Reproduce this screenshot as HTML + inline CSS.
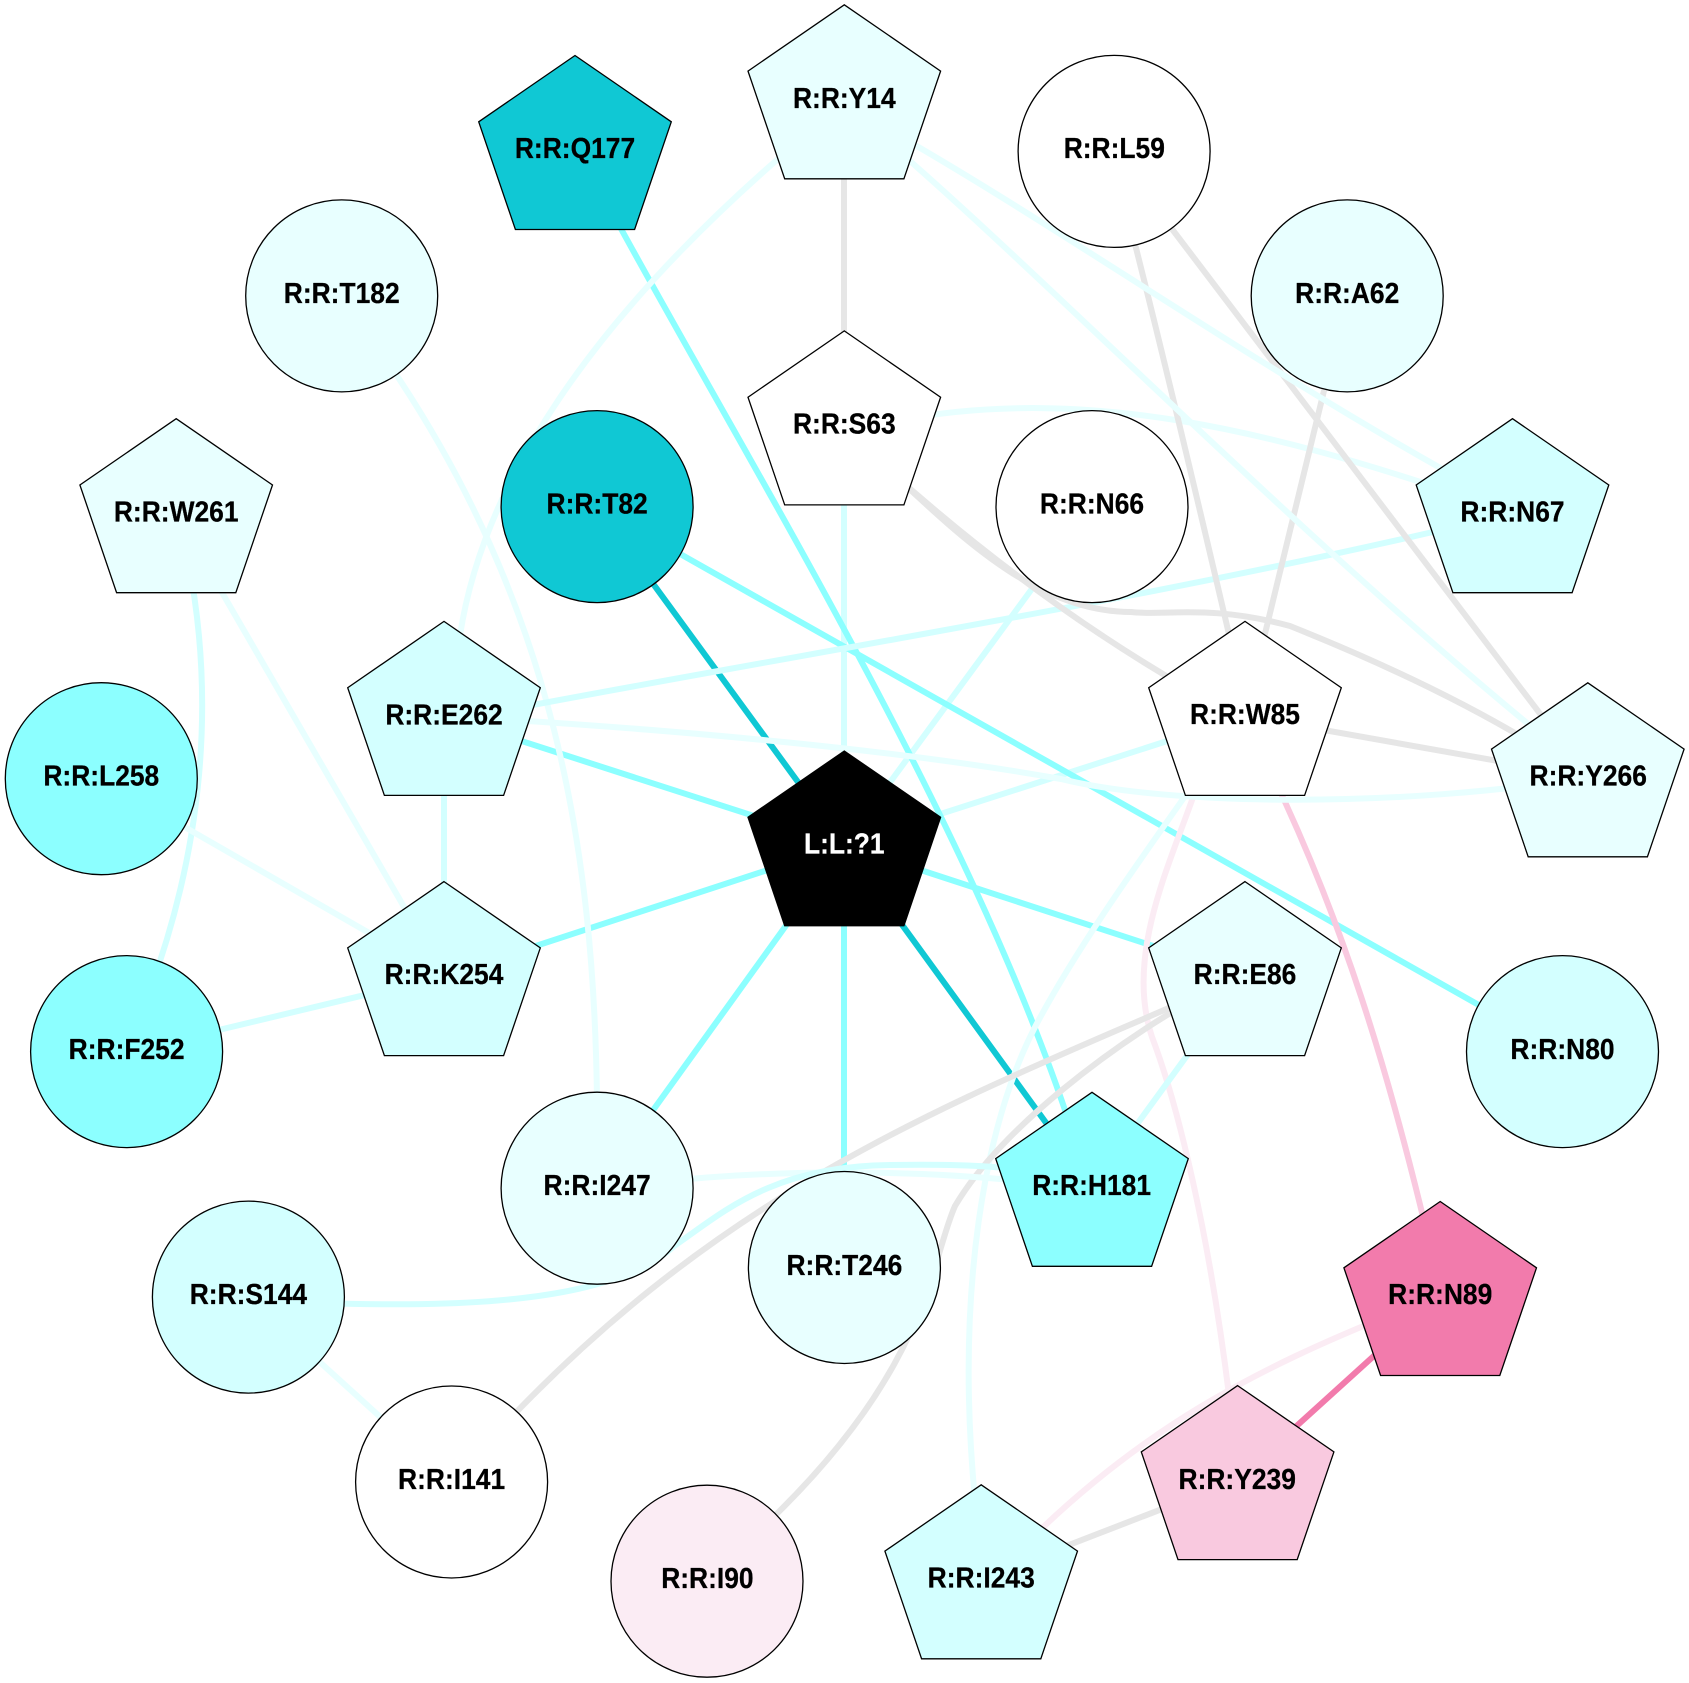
<!DOCTYPE html>
<html><head><meta charset="utf-8"><style>
html,body{margin:0;padding:0;background:#fff}
svg{display:block}
text{font-family:"Liberation Sans",Arial,sans-serif;font-weight:bold;font-size:26.4px;text-anchor:middle;fill:#000;stroke:#000;stroke-width:.25}
.e{fill:none;stroke-width:6}
.n{stroke:#000;stroke-width:1.3}
.D{stroke:#10c8d4}.B{stroke:#8cffff}.P{stroke:#d3ffff}.Q{stroke:#e8ffff}.G{stroke:#e6e6e6}.K{stroke:#f9c9df}.L{stroke:#fbecf4}.M{stroke:#f27bac}
</style></head><body>
<svg width="1689" height="1683" viewBox="0 0 1689 1683" xmlns="http://www.w3.org/2000/svg">
<rect width="1689" height="1683" fill="#fff"/>
<g>
<path class="e D" d="M597 507L844 845"/>
<path class="e D" d="M844 845L1092 1186"/>
<path class="e B" d="M844 845L444 716"/>
<path class="e B" d="M844 845L444 976"/>
<path class="e B" d="M844 845L1245 976"/>
<path class="e B" d="M844 845L597 1188"/>
<path class="e B" d="M844 845L844 1267"/>
<path class="e P" d="M844 425L844 845"/>
<path class="e P" d="M1092 507L844 845"/>
<path class="e P" d="M1245 716L844 845"/>
<path class="e B" d="M597 507L1562 1052"/>
<path class="e B" d="M600 190C727 428 966 809 1070 1125"/>
<path class="e K" d="M1270 770C1344 923 1388 1072 1425 1225"/>
<path class="e L" d="M1204 765C1179 847 1122 948 1152 1037C1176 1100 1210 1230 1232 1420"/>
<path class="e M" d="M1440 1296L1237 1480"/>
<path class="e L" d="M1390 1315C1262 1367 1138 1427 1010 1560"/>
<path class="e G" d="M844 99L844 425"/>
<path class="e Q" d="M800 140C597 312 473 488 457 660"/>
<path class="e Q" d="M385 358C555 605 594 851 597 1100"/>
<path class="e Q" d="M176 513L444 976"/>
<path class="e P" d="M188 560C216 702 202 848 150 990"/>
<path class="e Q" d="M101 779L444 976"/>
<path class="e P" d="M127 1052L444 976"/>
<path class="e P" d="M444 716L444 976"/>
<path class="e P" d="M480 715C824 649 1169 597 1513 513"/>
<path class="e Q" d="M480 718C680 730 900 750 1061 779C1170 806 1400 808 1590 777"/>
<path class="e Q" d="M900 420C1088 385 1272 432 1460 495"/>
<path class="e G" d="M880 462C955 530 1060 615 1190 690"/>
<path class="e G" d="M880 462C950 525 1030 612 1131 612C1165 616 1210 604 1290 626C1385 664 1470 705 1540 748"/>
<path class="e G" d="M1125 205C1160 340 1200 510 1235 660"/>
<path class="e G" d="M1150 200L1560 740"/>
<path class="e G" d="M1347 296L1245 716"/>
<path class="e G" d="M1245 716L1588 777"/>
<path class="e Q" d="M880 125C1050 220 1260 370 1480 490"/>
<path class="e Q" d="M880 135C1050 280 1300 540 1560 750"/>
<path class="e Q" d="M1200 775C1140 860 1075 950 1034 1029C985 1125 955 1290 975 1500"/>
<path class="e P" d="M1245 976L1092 1186"/>
<path class="e G" d="M1210 990C970 1096 730 1179 490 1440"/>
<path class="e G" d="M1210 990C1110 1045 1000 1130 955 1206C930 1262 930 1370 760 1530"/>
<path class="e Q" d="M650 1183C780 1168 950 1168 1090 1190"/>
<path class="e P" d="M320 1303C450 1307 610 1305 674 1246C720 1215 770 1166 890 1165C950 1164 1030 1164 1092 1185"/>
<path class="e Q" d="M248 1297L452 1482"/>
<path class="e G" d="M1237 1480L981 1579"/>
</g>
<g class="n">
<polygon transform="translate(844.3,4.8)" points="0,0 96.3,66.3 59.6,174 -59.6,174 -96.3,66.3" fill="#e8ffff"/>
<polygon transform="translate(575,55.5)" points="0,0 96.3,66.3 59.6,174 -59.6,174 -96.3,66.3" fill="#10c8d4"/>
<circle cx="1114.1" cy="151.4" r="96" fill="#fff"/>
<circle cx="341.7" cy="295.9" r="96" fill="#e8ffff"/>
<circle cx="1347.2" cy="295.9" r="96" fill="#e8ffff"/>
<polygon transform="translate(844.3,330.9)" points="0,0 96.3,66.3 59.6,174 -59.6,174 -96.3,66.3" fill="#fff"/>
<circle cx="597.1" cy="506.6" r="96" fill="#10c8d4"/>
<circle cx="1092" cy="506.6" r="96" fill="#fff"/>
<polygon transform="translate(176.2,418.7)" points="0,0 96.3,66.3 59.6,174 -59.6,174 -96.3,66.3" fill="#e8ffff"/>
<polygon transform="translate(1512.5,418.7)" points="0,0 96.3,66.3 59.6,174 -59.6,174 -96.3,66.3" fill="#d3ffff"/>
<polygon transform="translate(444,621.4)" points="0,0 96.3,66.3 59.6,174 -59.6,174 -96.3,66.3" fill="#d3ffff"/>
<polygon transform="translate(1245,621.4)" points="0,0 96.3,66.3 59.6,174 -59.6,174 -96.3,66.3" fill="#fff"/>
<polygon transform="translate(1587.8,682.8)" points="0,0 96.3,66.3 59.6,174 -59.6,174 -96.3,66.3" fill="#e8ffff"/>
<circle cx="101.3" cy="778.7" r="96" fill="#8cffff"/>
<polygon transform="translate(844.3,751)" points="0,0 96.3,66.3 59.6,174.7 -59.6,174.7 -96.3,66.3" fill="#000"/>
<polygon transform="translate(444,881.6)" points="0,0 96.3,66.3 59.6,174 -59.6,174 -96.3,66.3" fill="#d3ffff"/>
<polygon transform="translate(1245,881.6)" points="0,0 96.3,66.3 59.6,174 -59.6,174 -96.3,66.3" fill="#e8ffff"/>
<circle cx="126.6" cy="1051.6" r="96" fill="#8cffff"/>
<circle cx="1562.5" cy="1051.6" r="96" fill="#d3ffff"/>
<circle cx="597.1" cy="1188.2" r="96" fill="#e8ffff"/>
<polygon transform="translate(1092,1092.3)" points="0,0 96.3,66.3 59.6,174 -59.6,174 -96.3,66.3" fill="#8cffff"/>
<circle cx="844.4" cy="1267.5" r="96" fill="#e8ffff"/>
<circle cx="248.4" cy="1297.1" r="96" fill="#d3ffff"/>
<polygon transform="translate(1440.2,1201.5)" points="0,0 96.3,66.3 59.6,174 -59.6,174 -96.3,66.3" fill="#f27bac"/>
<circle cx="451.6" cy="1482" r="96" fill="#fff"/>
<polygon transform="translate(1237.6,1385.6)" points="0,0 96.3,66.3 59.6,174 -59.6,174 -96.3,66.3" fill="#f9c9df"/>
<circle cx="707" cy="1581.2" r="96" fill="#fbecf4"/>
<polygon transform="translate(981.2,1484.8)" points="0,0 96.3,66.3 59.6,174 -59.6,174 -96.3,66.3" fill="#d3ffff"/>
</g>
<text transform="translate(844.3,107.8) scale(1,1.1)">R:R:Y14</text>
<text transform="translate(575,157.8) scale(1,1.1)">R:R:Q177</text>
<text transform="translate(1114.3,158) scale(1,1.1)">R:R:L59</text>
<text transform="translate(341.7,302.9) scale(1,1.1)">R:R:T182</text>
<text transform="translate(1347.2,302.9) scale(1,1.1)">R:R:A62</text>
<text transform="translate(844.3,433.7) scale(1,1.1)">R:R:S63</text>
<text transform="translate(597.1,513.6) scale(1,1.1)">R:R:T82</text>
<text transform="translate(1092,513.6) scale(1,1.1)">R:R:N66</text>
<text transform="translate(176.2,521.5) scale(1,1.1)">R:R:W261</text>
<text transform="translate(1512.5,521.5) scale(1,1.1)">R:R:N67</text>
<text transform="translate(444,724.4) scale(1,1.1)">R:R:E262</text>
<text transform="translate(1245,724.2) scale(1,1.1)">R:R:W85</text>
<text transform="translate(1588.2,785.6) scale(1,1.1)">R:R:Y266</text>
<text transform="translate(101.3,785.7) scale(1,1.1)">R:R:L258</text>
<text transform="translate(844.3,853.5) scale(1,1.1)" style="fill:#fff;stroke:#fff">L:L:?1</text>
<text transform="translate(444,984) scale(1,1.1)">R:R:K254</text>
<text transform="translate(1245,984) scale(1,1.1)">R:R:E86</text>
<text transform="translate(126.6,1058.8) scale(1,1.1)">R:R:F252</text>
<text transform="translate(1562.5,1058.8) scale(1,1.1)">R:R:N80</text>
<text transform="translate(597.1,1195) scale(1,1.1)">R:R:I247</text>
<text transform="translate(1091.6,1195) scale(1,1.1)">R:R:H181</text>
<text transform="translate(844.4,1274.8) scale(1,1.1)">R:R:T246</text>
<text transform="translate(248.4,1304) scale(1,1.1)">R:R:S144</text>
<text transform="translate(1440.2,1304.2) scale(1,1.1)">R:R:N89</text>
<text transform="translate(451.6,1489) scale(1,1.1)">R:R:I141</text>
<text transform="translate(1237.2,1489) scale(1,1.1)">R:R:Y239</text>
<text transform="translate(707.4,1587.8) scale(1,1.1)">R:R:I90</text>
<text transform="translate(981.2,1587.3) scale(1,1.1)">R:R:I243</text>
</svg>
</body></html>
